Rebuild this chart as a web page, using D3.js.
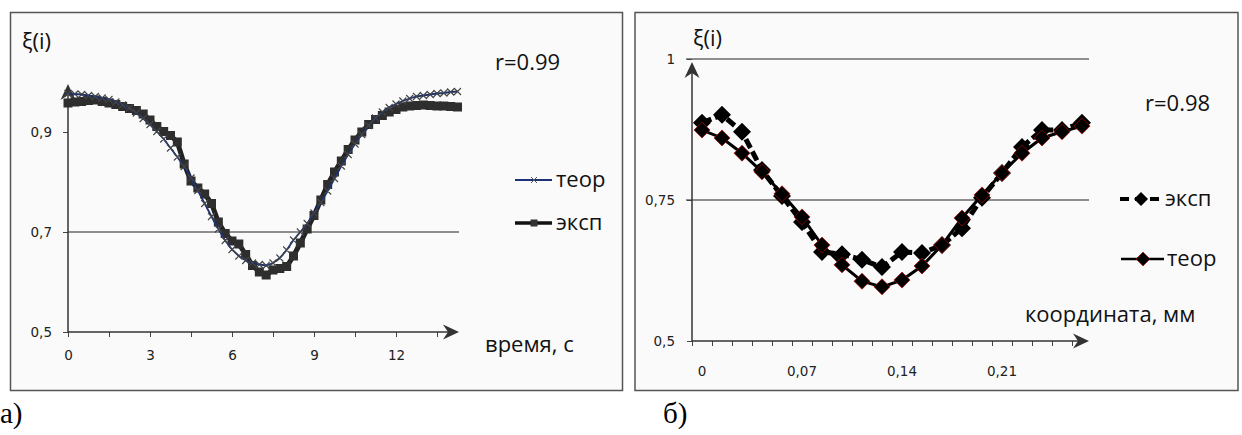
<!doctype html>
<html lang="ru">
<head>
<meta charset="utf-8">
<title>ξ(i)</title>
<script src="https://d3js.org/d3.v7.min.js"></script>
<style>
  body { margin: 0; background: #fff; }
  svg { display: block; }
  .tick line { stroke: #444; }
  .big { font-family: "Open Sans", sans-serif; font-size: 22px; fill: #111; }
  .cap { font-family: "Liberation Serif", serif; font-size: 29px; fill: #000; }
</style>
</head>
<body>
<script>
// --- chart a) : time, s
const timeA = d3.range(0, 14.26, 0.25);
const teorA = [0.977, 0.976, 0.975, 0.973, 0.971, 0.968, 0.965, 0.960, 0.954, 0.948,
  0.938, 0.927, 0.915, 0.901, 0.886, 0.868, 0.850, 0.831, 0.808, 0.783,
  0.757, 0.731, 0.706, 0.683, 0.665, 0.652, 0.643, 0.638, 0.635, 0.633,
  0.638, 0.648, 0.664, 0.684, 0.700, 0.717, 0.738, 0.759, 0.782, 0.807,
  0.832, 0.855, 0.876, 0.895, 0.913, 0.928, 0.940, 0.949, 0.956, 0.962,
  0.967, 0.971, 0.973, 0.975, 0.977, 0.978, 0.980, 0.981];
const expA = [0.958, 0.960, 0.961, 0.963, 0.964, 0.961, 0.958, 0.955, 0.951, 0.947,
  0.943, 0.936, 0.924, 0.911, 0.901, 0.893, 0.880, 0.836, 0.802, 0.788,
  0.776, 0.757, 0.720, 0.697, 0.682, 0.676, 0.655, 0.633, 0.620, 0.614,
  0.624, 0.627, 0.631, 0.652, 0.678, 0.706, 0.733, 0.764, 0.795, 0.820,
  0.842, 0.865, 0.884, 0.900, 0.915, 0.925, 0.933, 0.940, 0.945, 0.950,
  0.952, 0.953, 0.954, 0.953, 0.952, 0.952, 0.951, 0.950];
const yTicksA = [0.5, 0.7, 0.9];
const xLabelsA = [0, 3, 6, 9, 12];

// --- chart б) : coordinate, mm (category axis)
const coordB = d3.range(20).map(i => +(i * 0.014).toFixed(3));
const expB = [0.887, 0.901, 0.871, 0.803, 0.757, 0.711, 0.658, 0.654, 0.644, 0.631,
  0.658, 0.656, 0.670, 0.700, 0.754, 0.798, 0.844, 0.874, 0.874, 0.887];
const teorB = [0.874, 0.860, 0.833, 0.800, 0.761, 0.720, 0.670, 0.635, 0.606, 0.596,
  0.608, 0.633, 0.670, 0.718, 0.759, 0.798, 0.833, 0.860, 0.871, 0.881];
const yTicksB = [0.5, 0.75, 1];
const xLabelsB = ["0", "0,07", "0,14", "0,21"];

const svg = d3.select('body').append('svg')
    .attr('width', 1242).attr('height', 435);

const comma = d => String(d).replace('.', ',');
const tickFont = sel => sel.selectAll('text')
  .style('font-family', '"DejaVu Sans", sans-serif').style('font-size', '13.5px').style('fill', '#222');

// arrow head like Excel "stealth"
function arrow(g, x, y, dir) {
  const L = 16, H = 7.5, N = 11;
  let p;
  if (dir === 'right') p = [[x, y], [x - L, y - H], [x - N, y], [x - L, y + H]];
  else p = [[x, y], [x - H, y + L], [x, y + N], [x + H, y + L]];
  g.append('path').attr('d', 'M' + p.join('L') + 'Z').attr('fill', '#333');
}

// ================= panel a =================
const pa = svg.append('g');
pa.append('rect').attr('x', 10.5).attr('y', 12.5).attr('width', 612).attr('height', 378)
  .attr('fill', '#fafafa').attr('stroke', '#555').attr('stroke-width', 1.5);

const xA = d3.scaleLinear().domain([0, 12]).range([68, 396]);
const yA = d3.scaleLinear().domain([0.5, 0.9]).range([332, 132]);

// grid at 0,7
pa.append('line').attr('x1', xA(0)).attr('x2', 459).attr('y1', yA(0.7)).attr('y2', yA(0.7))
  .attr('stroke', '#222').attr('stroke-width', 1);

const axA = pa.append('g').attr('transform', `translate(0,${yA(0.5)})`)
  .call(d3.axisBottom(xA).tickValues(d3.range(0, 14.3, 1.5)).tickSize(5).tickPadding(13)
    .tickFormat(d => xLabelsA.includes(d) ? d : ''));
axA.select('.domain').remove();
tickFont(axA);
const ayA = pa.append('g').attr('transform', `translate(${xA(0)},0)`)
  .call(d3.axisLeft(yA).tickValues(yTicksA).tickSize(5).tickPadding(11).tickFormat(comma));
ayA.select('.domain').remove();
tickFont(ayA);

pa.append('line').attr('x1', xA(0)).attr('x2', 456).attr('y1', yA(0.5)).attr('y2', yA(0.5))
  .attr('stroke', '#333').attr('stroke-width', 1.5);
pa.append('line').attr('x1', xA(0)).attr('x2', xA(0)).attr('y1', yA(0.5)).attr('y2', 88)
  .attr('stroke', '#333').attr('stroke-width', 1.5);
arrow(pa, 459, yA(0.5), 'right');
arrow(pa, xA(0), 84, 'up');

// exp series
const lineA = d3.line().x((d, i) => xA(timeA[i])).y(d => yA(d));
pa.append('path').attr('d', lineA(expA)).attr('fill', 'none')
  .attr('stroke', '#222').attr('stroke-width', 5);
pa.append('g').selectAll('rect').data(expA).join('rect')
  .attr('x', (d, i) => xA(timeA[i]) - 4.5).attr('y', d => yA(d) - 4.5)
  .attr('width', 9).attr('height', 9).attr('fill', '#2e2e2e');

// teor series
pa.append('path').attr('d', lineA(teorA)).attr('fill', 'none')
  .attr('stroke', '#1c3275').attr('stroke-width', 1.8);
const cross = (x, y, s) => `M${x - s},${y - s}L${x + s},${y + s}M${x - s},${y + s}L${x + s},${y - s}`;
pa.append('path').attr('d', teorA.map((d, i) => cross(xA(timeA[i]), yA(d), 3.5)).join(''))
  .attr('stroke', '#444').attr('stroke-width', 1.1).attr('fill', 'none');

pa.append('text').attr('class', 'big').attr('x', 22).attr('y', 49).text('ξ(i)');
pa.append('text').attr('class', 'big').attr('x', 495).attr('y', 70).text('r=0.99');
pa.append('text').attr('class', 'big').attr('x', 485).attr('y', 352).text('время, с');

// legend a
pa.append('line').attr('x1', 515).attr('x2', 552).attr('y1', 180).attr('y2', 180)
  .attr('stroke', '#1c3275').attr('stroke-width', 2);
pa.append('path').attr('d', cross(534, 180, 3)).attr('stroke', '#555').attr('stroke-width', 1);
pa.append('text').attr('class', 'big').attr('x', 556).attr('y', 187).text('теор');
pa.append('line').attr('x1', 515).attr('x2', 552).attr('y1', 223).attr('y2', 223)
  .attr('stroke', '#111').attr('stroke-width', 3.5);
pa.append('rect').attr('x', 530.5).attr('y', 219.5).attr('width', 7).attr('height', 7).attr('fill', '#333');
pa.append('text').attr('class', 'big').attr('x', 556).attr('y', 230).text('эксп');

svg.append('text').attr('class', 'cap').attr('x', 0).attr('y', 423).text('а)');

// ================= panel б =================
const pb = svg.append('g');
pb.append('rect').attr('x', 635).attr('y', 12.5).attr('width', 603).attr('height', 378)
  .attr('fill', '#fafafa').attr('stroke', '#555').attr('stroke-width', 1.5);

const step = 0.014;
const xB = d3.scaleLinear().domain([0, 15 * step]).range([702, 1002]);
const yB = d3.scaleLinear().domain([0.5, 1]).range([341, 59]);

pb.selectAll('line.grid').data([1, 0.75]).join('line').attr('class', 'grid')
  .attr('x1', 686).attr('x2', 1089).attr('y1', d => yB(d)).attr('y2', d => yB(d))
  .attr('stroke', '#222').attr('stroke-width', 1);

const bounds = coordB.map(c => c - step / 2);
const axB = pb.append('g').attr('transform', `translate(0,${yB(0.5)})`)
  .call(d3.axisBottom(xB).tickValues(bounds).tickSize(5).tickFormat(''));
axB.select('.domain').remove();
const xlabB = pb.append('g');
xlabB.selectAll('text').data(xLabelsB).join('text')
  .attr('x', (d, i) => xB(coordB[i * 5])).attr('y', yB(0.5) + 35)
  .attr('text-anchor', 'middle')
  .text(d => d);
tickFont(xlabB);
const ayB = pb.append('g').attr('transform', `translate(${xB(-step / 2)},0)`)
  .call(d3.axisLeft(yB).tickValues(yTicksB).tickSize(5).tickPadding(12).tickFormat(comma));
ayB.select('.domain').remove();
tickFont(ayB);

pb.append('line').attr('x1', xB(-step / 2)).attr('x2', 1086).attr('y1', yB(0.5)).attr('y2', yB(0.5))
  .attr('stroke', '#333').attr('stroke-width', 1.5);
pb.append('line').attr('x1', xB(-step / 2)).attr('x2', xB(-step / 2)).attr('y1', yB(0.5)).attr('y2', 66)
  .attr('stroke', '#333').attr('stroke-width', 1.5);
arrow(pb, 1089, yB(0.5), 'right');
arrow(pb, xB(-step / 2), 62, 'up');

const lineB = d3.line().x((d, i) => xB(coordB[i])).y(d => yB(d));
const diamond = (x, y, s) => `M${x},${y - s}L${x + s},${y}L${x},${y + s}L${x - s},${y}Z`;

// exp (dashed)
pb.append('path').attr('d', lineB(expB)).attr('fill', 'none')
  .attr('stroke', '#000').attr('stroke-width', 5).attr('stroke-dasharray', '10,4');
pb.append('path').attr('d', expB.map((d, i) => diamond(xB(coordB[i]), yB(d), 9)).join(''))
  .attr('fill', '#000');

// teor
pb.append('path').attr('d', lineB(teorB)).attr('fill', 'none')
  .attr('stroke', '#000').attr('stroke-width', 3);
pb.append('path').attr('d', teorB.map((d, i) => diamond(xB(coordB[i]), yB(d), 8)).join(''))
  .attr('fill', '#000').attr('stroke', '#b00000').attr('stroke-width', 0.7);

pb.append('text').attr('class', 'big').attr('x', 693).attr('y', 46).text('ξ(i)');
pb.append('text').attr('class', 'big').attr('x', 1145).attr('y', 111).text('r=0.98');
pb.append('text').attr('class', 'big').attr('x', 1025).attr('y', 322).text('координата, мм');

// legend б
pb.append('line').attr('x1', 1120).attr('x2', 1162).attr('y1', 199).attr('y2', 199)
  .attr('stroke', '#000').attr('stroke-width', 4).attr('stroke-dasharray', '9,6');
pb.append('path').attr('d', diamond(1141, 199, 7)).attr('fill', '#000');
pb.append('text').attr('class', 'big').attr('x', 1165).attr('y', 206).text('эксп');
pb.append('line').attr('x1', 1121).attr('x2', 1164).attr('y1', 259).attr('y2', 259)
  .attr('stroke', '#000').attr('stroke-width', 2.5);
pb.append('path').attr('d', diamond(1143, 259, 7)).attr('fill', '#000')
  .attr('stroke', '#b00000').attr('stroke-width', 0.6);
pb.append('text').attr('class', 'big').attr('x', 1167).attr('y', 266).text('теор');

svg.append('text').attr('class', 'cap').attr('x', 663).attr('y', 423).text('б)');
</script>
</body>
</html>
